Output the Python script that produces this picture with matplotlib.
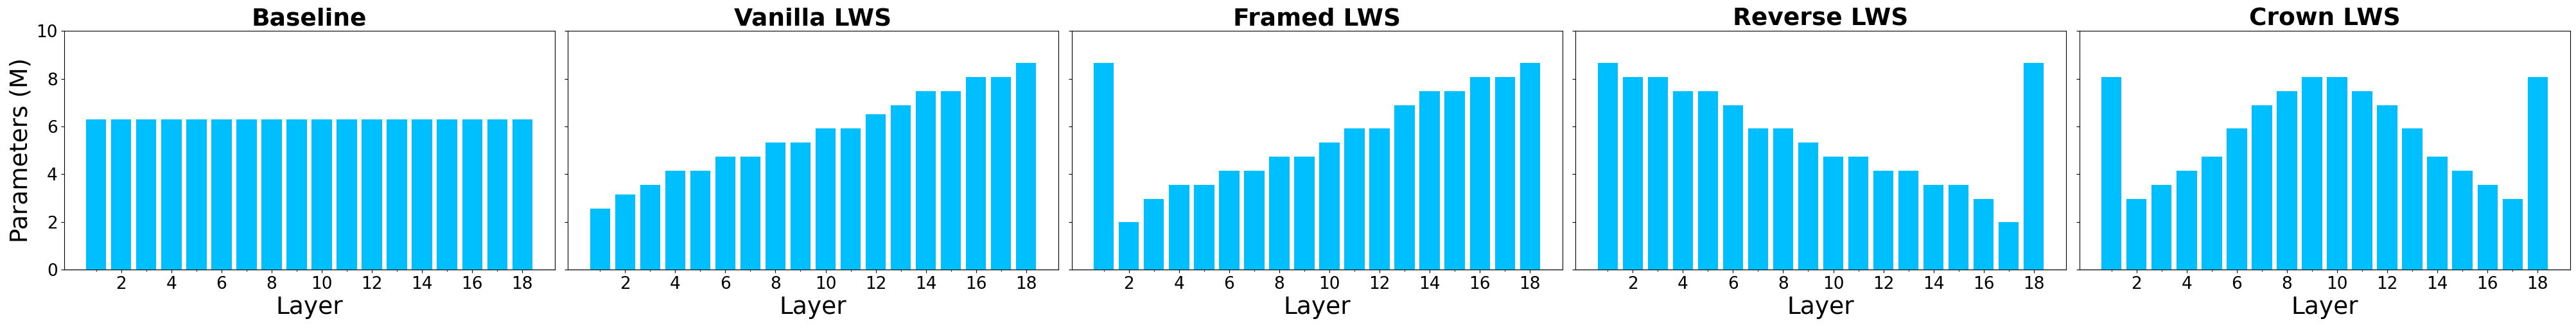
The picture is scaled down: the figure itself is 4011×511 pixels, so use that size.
import numpy as np
import matplotlib
matplotlib.use("Agg")
import matplotlib.pyplot as plt

# -- Data ---------------------------------------------------------------
layers = list(range(1, 19))
titles = ["Baseline", "Vanilla LWS", "Framed LWS", "Reverse LWS", "Crown LWS"]

baseline = [6.30] * 18
vanilla = [2.56, 3.15, 3.55, 4.14, 4.14, 4.73, 4.73, 5.33, 5.33,
           5.92, 5.92, 6.51, 6.89, 7.48, 7.48, 8.07, 8.07, 8.66]
framed = [8.66, 1.99, 2.96, 3.55, 3.55, 4.14, 4.14, 4.73, 4.73,
          5.33, 5.92, 5.92, 6.89, 7.48, 7.48, 8.07, 8.07, 8.66]
reverse = [8.66, 8.07, 8.07, 7.48, 7.48, 6.89, 5.92, 5.92, 5.33,
           4.73, 4.73, 4.14, 4.14, 3.55, 3.55, 2.96, 1.99, 8.66]
crown = [8.07, 2.96, 3.55, 4.14, 4.73, 5.92, 6.89, 7.48, 8.07,
         8.07, 7.48, 6.89, 5.92, 4.73, 4.14, 3.55, 2.96, 8.07]
series = [baseline, vanilla, framed, reverse, crown]

major_x = [l for l in layers if l % 2 == 0]
minor_x = [l for l in layers if l % 2 == 1]

# -- Figure -------------------------------------------------------------
W, H = 4011, 511
fig = plt.figure(figsize=(W / 100, H / 100), dpi=100)

# axes geometry in pixels
left0 = 99.5
width = 764
gap = 20.5
top = 48.3
bottom = 420

axes = []
for i, (title, vals) in enumerate(zip(titles, series)):
    x0 = left0 + i * (width + gap)
    ax = fig.add_axes([x0 / W, (H - bottom) / H, width / W, (bottom - top) / H],
                      sharey=axes[0] if axes else None)
    ax.bar(layers, vals, width=0.8, color="deepskyblue")
    ax.axhline(0, color="#dddddd", lw=1.5, zorder=0)
    ax.set_ylim(0, 10)
    ax.set_yticks([0, 2, 4, 6, 8, 10])
    ax.set_xticks(major_x)
    ax.set_xticks(minor_x, minor=True)
    ax.tick_params(axis="both", which="major", labelsize=19)
    ax.set_title(title, fontsize=27, fontweight="bold", pad=6)
    ax.set_xlabel("Layer", fontsize=27, labelpad=4)
    if i == 0:
        ax.set_ylabel("Parameters (M)", fontsize=27)
    else:
        ax.tick_params(axis="y", labelleft=False)
    axes.append(ax)

fig.savefig("out.png", dpi=100)
